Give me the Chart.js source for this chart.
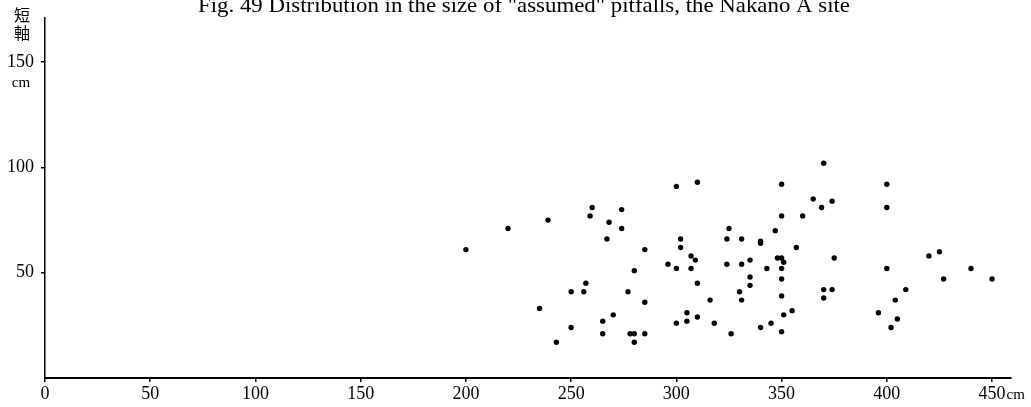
<!DOCTYPE html>
<html>
<head>
<meta charset="utf-8">
<script src="https://cdn.jsdelivr.net/npm/chart.js@4"></script>
<style>
  html, body { margin: 0; padding: 0; background: #fff; }
  #chart { display: block; }
</style>
</head>
<body>
<canvas id="chart" width="1031" height="407"></canvas>
<script>
const titleText = 'Fig. 49 Distribution in the size of "assumed" pitfalls, the Nakano A site';
const yAxisTitle = ['短', '軸'];

// long axis (cm)
const longAxis = [
  200, 220, 239, 260, 259, 268, 274, 274, 267, 257,
  250, 256, 277, 235, 250, 265, 270, 265, 243, 278,
  300, 310, 350, 365, 369, 370, 350, 360, 285, 302,
  302, 325, 324, 331, 340, 340, 347, 357, 307, 309,
  296, 300, 307, 280, 324, 331, 335, 348, 350, 351,
  343, 350, 310, 335, 335, 350, 330, 331, 350, 285,
  316, 305, 310, 305, 300, 318, 351, 355, 345, 340,
  326, 350, 280, 285, 280, 374, 400, 400, 375, 400,
  420, 425, 427, 440, 450, 370, 374, 370, 409, 404,
  396, 405, 402
];
// short axis (cm)
const shortAxis = [
  61, 71, 75, 81, 77, 74, 80, 71, 66, 45,
  41, 41, 41, 33, 24, 27, 30, 21, 17, 21,
  91, 93, 92, 85, 81, 102, 77, 77, 61, 66,
  62, 71, 66, 66, 65, 64, 70, 62, 58, 56,
  54, 52, 52, 51, 54, 54, 56, 57, 57, 55,
  52, 52, 45, 48, 44, 47, 41, 37, 39, 36,
  37, 31, 29, 27, 26, 26, 30, 32, 26, 24,
  21, 22, 21, 21, 17, 84, 92, 81, 57, 52,
  58, 60, 47, 52, 47, 42, 42, 38, 42, 37,
  31, 28, 24
];

const xTicks = [0, 50, 100, 150, 200, 250, 300, 350, 400, 450];
const yTicks = [50, 100, 150];

const points = longAxis.map((x, i) => ({ x: x, y: shortAxis[i] }));

const labelFont = { family: '"Liberation Serif", "DejaVu Serif", serif', size: 18 };

const extraText = {
  id: 'extraText',
  afterDraw(chart) {
    const ctx = chart.ctx;
    const xs = chart.scales.x;
    const ys = chart.scales.y;
    ctx.save();
    ctx.fillStyle = '#000';

    // title, cut at the top like the scan
    ctx.font = '21px "Liberation Serif", serif';
    ctx.textAlign = 'left';
    ctx.textBaseline = 'alphabetic';
    const w = ctx.measureText(titleText).width;
    ctx.save();
    ctx.translate(198, 12);
    ctx.scale(652 / w, 1);
    ctx.fillText(titleText, 0, 0);
    ctx.restore();

    // vertical axis name
    ctx.font = '16px "Noto Sans CJK JP", sans-serif';
    ctx.textAlign = 'center';
    ctx.textBaseline = 'middle';
    ctx.fillText(yAxisTitle[0], 22, 15);
    ctx.fillText(yAxisTitle[1], 22, 33);

    // units
    ctx.font = '15px "Liberation Serif", serif';
    ctx.fillText('cm', 21, ys.getPixelForValue(150) + 21);
    ctx.textAlign = 'left';
    const x450 = xs.getPixelForValue(450);
    ctx.font = '18px "Liberation Serif", serif';
    const half = ctx.measureText('450').width / 2;
    ctx.font = '15px "Liberation Serif", serif';
    ctx.textBaseline = 'alphabetic';
    ctx.fillText('cm', x450 + half + 1, 399);
    ctx.restore();
  }
};

new Chart(document.getElementById('chart'), {
  type: 'scatter',
  data: {
    datasets: [{
      data: points,
      backgroundColor: '#000',
      borderColor: '#000',
      pointRadius: 2.7,
      pointHoverRadius: 2.7,
      borderWidth: 0
    }]
  },
  options: {
    responsive: false,
    animation: false,
    layout: { padding: { top: 18, right: 20, left: 0, bottom: 0 } },
    plugins: {
      legend: { display: false },
      tooltip: { enabled: false }
    },
    scales: {
      x: {
        type: 'linear',
        min: 0,
        max: 459,
        afterBuildTicks: s => { s.ticks = xTicks.map(v => ({ value: v })); },
        afterFit: s => { s.height = 29; },
        grid: { drawOnChartArea: false, drawTicks: true, tickLength: 4, color: '#000', lineWidth: 1.5 },
        border: { display: true, color: '#000', width: 2 },
        ticks: { color: '#000', font: labelFont, padding: 1, maxRotation: 0, autoSkip: false }
      },
      y: {
        type: 'linear',
        min: 0,
        max: 171,
        afterBuildTicks: s => { s.ticks = yTicks.map(v => ({ value: v })); },
        afterFit: s => { s.width = 45; },
        grid: { drawOnChartArea: false, drawTicks: true, tickLength: 4, color: '#000', lineWidth: 1.5 },
        border: { display: true, color: '#000', width: 1.5 },
        ticks: { color: '#000', font: labelFont, padding: 7 }
      }
    }
  },
  plugins: [extraText]
});
</script>
</body>
</html>
